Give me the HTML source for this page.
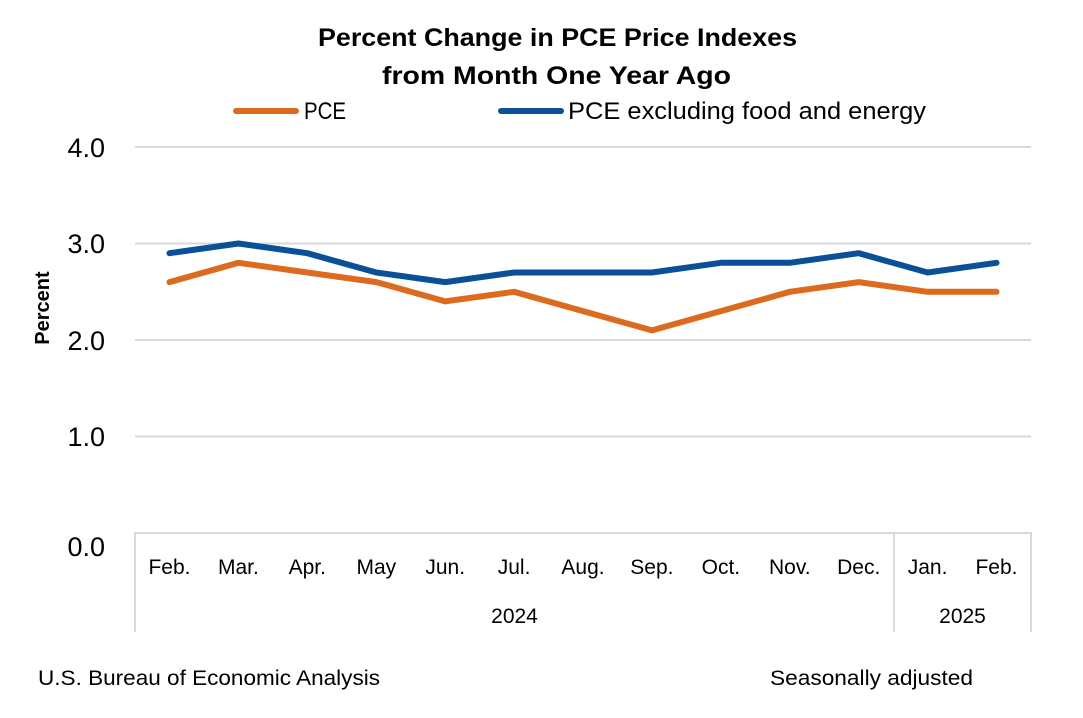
<!DOCTYPE html>
<html><head><meta charset="utf-8"><style>
html,body{margin:0;padding:0;background:#fff;}
svg{display:block;}
text{font-family:"Liberation Sans",sans-serif;fill:#000;}
</style></head><body>
<svg width="1083" height="718" viewBox="0 0 1083 718" xmlns="http://www.w3.org/2000/svg">
<rect width="1083" height="718" fill="#fff"/>
<!-- title -->
<text x="318" y="46" font-size="25" font-weight="bold" textLength="479" lengthAdjust="spacingAndGlyphs">Percent Change in PCE Price Indexes</text>
<text x="382" y="84" font-size="25" font-weight="bold" textLength="349" lengthAdjust="spacingAndGlyphs">from Month One Year Ago</text>
<!-- legend -->
<line x1="236" y1="111" x2="296" y2="111" stroke="#DC6A1F" stroke-width="6" stroke-linecap="round"/>
<text x="304" y="119" font-size="24" textLength="42" lengthAdjust="spacingAndGlyphs">PCE</text>
<line x1="501" y1="111" x2="561" y2="111" stroke="#0A4F98" stroke-width="6" stroke-linecap="round"/>
<text x="568" y="119" font-size="24" textLength="358" lengthAdjust="spacingAndGlyphs">PCE excluding food and energy</text>
<!-- gridlines -->
<g stroke="#d9d9d9" stroke-width="2">
<line x1="135" y1="147" x2="1031" y2="147"/>
<line x1="135" y1="243.5" x2="1031" y2="243.5"/>
<line x1="135" y1="340" x2="1031" y2="340"/>
<line x1="135" y1="436.5" x2="1031" y2="436.5"/>
<line x1="135" y1="533" x2="1031" y2="533"/>
<line x1="135" y1="532" x2="135" y2="632"/>
<line x1="894" y1="532" x2="894" y2="632"/>
<line x1="1031" y1="532" x2="1031" y2="632"/>
</g>
<!-- y tick labels -->
<g font-size="27" text-anchor="end">
<text x="105" y="157">4.0</text>
<text x="105" y="253">3.0</text>
<text x="105" y="350">2.0</text>
<text x="105" y="446">1.0</text>
<text x="105" y="556">0.0</text>
</g>
<text transform="translate(49,308) rotate(-90)" font-size="20" font-weight="bold" text-anchor="middle">Percent</text>
<!-- series -->
<polyline fill="none" stroke="#0A4F98" stroke-width="6" stroke-linejoin="round" stroke-linecap="round"
points="169.5,253.2 238.4,243.5 307.3,253.2 376.3,272.5 445.2,282.1 514.1,272.5 583.0,272.5 651.9,272.5 720.9,262.8 789.8,262.8 858.7,253.2 927.6,272.5 996.5,262.8"/>
<polyline fill="none" stroke="#DC6A1F" stroke-width="6" stroke-linejoin="round" stroke-linecap="round"
points="169.5,282.1 238.4,262.8 307.3,272.5 376.3,282.1 445.2,301.4 514.1,291.8 583.0,311.1 651.9,330.4 720.9,311.1 789.8,291.8 858.7,282.1 927.6,291.8 996.5,291.8"/>
<!-- x labels -->
<g font-size="21" text-anchor="middle">
<text x="169.5" y="574">Feb.</text>
<text x="238.4" y="574">Mar.</text>
<text x="307.3" y="574">Apr.</text>
<text x="376.3" y="574">May</text>
<text x="445.2" y="574">Jun.</text>
<text x="514.1" y="574">Jul.</text>
<text x="583.0" y="574">Aug.</text>
<text x="651.9" y="574">Sep.</text>
<text x="720.9" y="574">Oct.</text>
<text x="789.8" y="574">Nov.</text>
<text x="858.7" y="574">Dec.</text>
<text x="927.6" y="574">Jan.</text>
<text x="996.5" y="574">Feb.</text>
<text x="514.5" y="623">2024</text>
<text x="962.5" y="623">2025</text>
</g>
<!-- footer -->
<text x="38" y="685" font-size="21" textLength="342" lengthAdjust="spacingAndGlyphs">U.S. Bureau of Economic Analysis</text>
<text x="770" y="685" font-size="21" textLength="203" lengthAdjust="spacingAndGlyphs">Seasonally adjusted</text>
</svg>
</body></html>
